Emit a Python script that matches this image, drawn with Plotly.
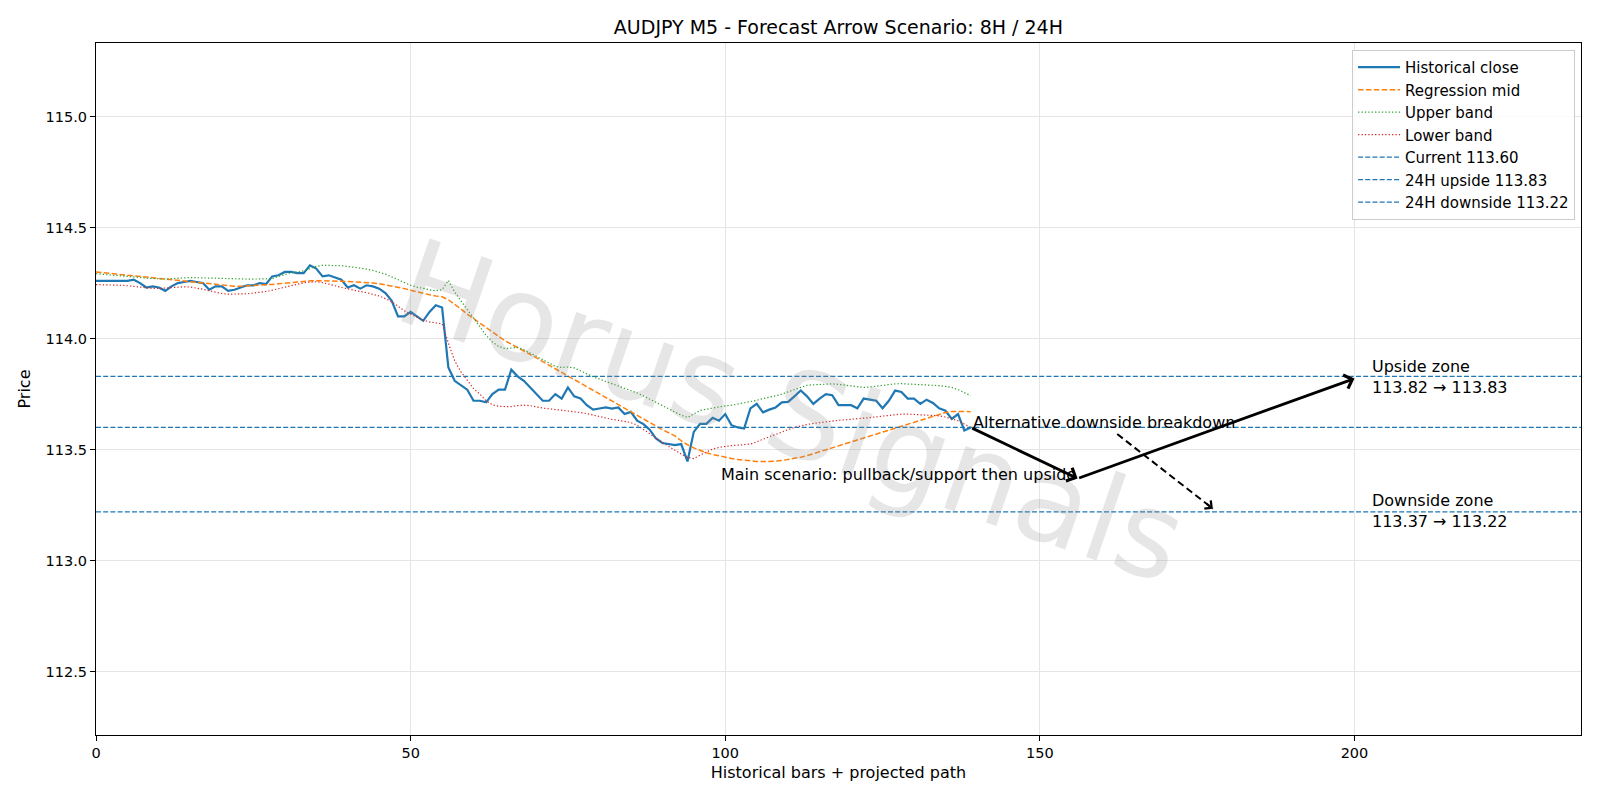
import plotly.graph_objects as go

title_text = "AUDJPY M5 - Forecast Arrow Scenario: 8H / 24H"

close = [
    114.26, 114.26, 114.26, 114.26, 114.26, 114.26, 114.265, 114.25, 114.23, 114.235,
    114.23, 114.215, 114.235, 114.25, 114.255, 114.26, 114.255, 114.25, 114.22, 114.235,
    114.235, 114.215, 114.22, 114.23, 114.24, 114.24, 114.25, 114.245, 114.28, 114.285,
    114.30, 114.30, 114.295, 114.295, 114.33, 114.315, 114.28, 114.285, 114.275, 114.265,
    114.23, 114.24, 114.225, 114.24, 114.235, 114.225, 114.205, 114.17, 114.10, 114.10,
    114.12, 114.10, 114.08, 114.12, 114.15, 114.14, 113.87, 113.81, 113.79, 113.77,
    113.72, 113.72, 113.713, 113.75, 113.77, 113.77, 113.86, 113.83, 113.81, 113.78,
    113.75, 113.72, 113.72, 113.75, 113.73, 113.78, 113.74, 113.73, 113.70, 113.68,
    113.685, 113.69, 113.685, 113.69, 113.66, 113.67, 113.63, 113.615, 113.59, 113.55,
    113.53, 113.525, 113.52, 113.525, 113.447, 113.58, 113.616, 113.616, 113.643, 113.63,
    113.66, 113.61, 113.60, 113.595, 113.686, 113.706, 113.668, 113.68, 113.69, 113.713,
    113.715, 113.74, 113.766, 113.74, 113.706, 113.73, 113.75, 113.745, 113.70, 113.70,
    113.70, 113.686, 113.73, 113.725, 113.72, 113.686, 113.72, 113.766, 113.76, 113.73,
    113.73, 113.706, 113.725, 113.71, 113.686, 113.675, 113.638, 113.66, 113.586, 113.60,
]

reg_mid = [
    114.300, 114.297, 114.294, 114.291, 114.288, 114.285, 114.282, 114.279, 114.276, 114.273,
    114.270, 114.267, 114.264, 114.261, 114.258, 114.255, 114.252, 114.249, 114.246, 114.243,
    114.240, 114.238, 114.236, 114.236, 114.237, 114.238, 114.240, 114.242, 114.244, 114.247,
    114.250, 114.253, 114.256, 114.258, 114.260, 114.261, 114.261, 114.260, 114.259, 114.258,
    114.257, 114.256, 114.255, 114.253, 114.250, 114.247, 114.242, 114.237, 114.231, 114.225,
    114.218, 114.210, 114.203, 114.197, 114.192, 114.188, 114.175, 114.155, 114.133, 114.110,
    114.090, 114.070, 114.050, 114.030, 114.010, 113.990, 113.975, 113.960, 113.945, 113.930,
    113.913, 113.896, 113.880, 113.863, 113.846, 113.830, 113.813, 113.796, 113.780, 113.765,
    113.750, 113.733, 113.716, 113.700, 113.685, 113.668, 113.652, 113.636, 113.620, 113.605,
    113.590, 113.576, 113.562, 113.540, 113.522, 113.508, 113.496, 113.486, 113.478, 113.471,
    113.465, 113.460, 113.456, 113.452, 113.449, 113.447, 113.446, 113.446, 113.448, 113.451,
    113.455, 113.460, 113.466, 113.473, 113.481, 113.490, 113.499, 113.508, 113.517, 113.526,
    113.535, 113.544, 113.553, 113.562, 113.571, 113.580, 113.589, 113.598, 113.607, 113.616,
    113.625, 113.634, 113.643, 113.652, 113.660, 113.667, 113.672, 113.673, 113.672, 113.670,
]

upper_band = [
    114.292, 114.290, 114.288, 114.285, 114.283, 114.280, 114.278, 114.275, 114.272, 114.270,
    114.268, 114.268, 114.270, 114.272, 114.274, 114.275, 114.274, 114.273, 114.271, 114.270,
    114.270, 114.269, 114.268, 114.268, 114.268, 114.268, 114.268, 114.268, 114.270, 114.280,
    114.290, 114.297, 114.300, 114.305, 114.315, 114.325, 114.330, 114.330, 114.330, 114.328,
    114.325, 114.322, 114.318, 114.313, 114.307, 114.300, 114.290, 114.278, 114.265, 114.252,
    114.240, 114.232, 114.225, 114.220, 114.215, 114.220, 114.262, 114.210, 114.170, 114.130,
    114.090, 114.050, 114.015, 113.985, 113.965, 113.955, 113.958, 113.960, 113.950, 113.935,
    113.918, 113.905, 113.890, 113.875, 113.870, 113.872, 113.868, 113.855, 113.840, 113.828,
    113.818, 113.808, 113.798, 113.788, 113.778, 113.768, 113.755, 113.742, 113.728, 113.714,
    113.700, 113.685, 113.670, 113.655, 113.645, 113.662, 113.676, 113.682, 113.688, 113.693,
    113.697, 113.700, 113.705, 113.710, 113.715, 113.722, 113.730, 113.735, 113.742, 113.750,
    113.760, 113.772, 113.782, 113.790, 113.792, 113.794, 113.795, 113.796, 113.794, 113.790,
    113.786, 113.782, 113.780, 113.782, 113.786, 113.790, 113.794, 113.796, 113.797, 113.796,
    113.794, 113.792, 113.791, 113.790, 113.788, 113.785, 113.780, 113.770, 113.757, 113.743,
]

lower_band = [
    114.243, 114.243, 114.242, 114.241, 114.240, 114.238, 114.235, 114.232, 114.228, 114.226,
    114.226, 114.228, 114.230, 114.232, 114.233, 114.232, 114.228, 114.222, 114.215, 114.208,
    114.203, 114.200, 114.200, 114.200, 114.202, 114.205, 114.208, 114.212, 114.218, 114.225,
    114.232, 114.240, 114.246, 114.251, 114.255, 114.256, 114.252, 114.246, 114.238, 114.230,
    114.223, 114.217, 114.212, 114.207, 114.200, 114.192, 114.180, 114.166, 114.145, 114.125,
    114.110, 114.095, 114.083, 114.075, 114.070, 114.067, 113.980, 113.900, 113.850, 113.810,
    113.775, 113.750, 113.720, 113.702, 113.695, 113.694, 113.694, 113.698, 113.700, 113.698,
    113.692, 113.687, 113.684, 113.681, 113.678, 113.674, 113.670, 113.667, 113.662, 113.655,
    113.648, 113.642, 113.636, 113.632, 113.628, 113.622, 113.610, 113.592, 113.572, 113.550,
    113.532, 113.515, 113.498, 113.480, 113.465, 113.460, 113.475, 113.490, 113.503, 113.510,
    113.515, 113.518, 113.520, 113.522, 113.525, 113.535, 113.548, 113.558, 113.568, 113.580,
    113.590, 113.600, 113.608, 113.613, 113.618, 113.622, 113.626, 113.630, 113.632, 113.634,
    113.636, 113.638, 113.640, 113.643, 113.647, 113.651, 113.655, 113.658, 113.660, 113.660,
    113.659, 113.658, 113.657, 113.655, 113.652, 113.647, 113.640, 113.630, 113.615, 113.600,
]

bars = list(range(len(close)))

level_names = ["Current 113.60", "24H upside 113.83", "24H downside 113.22"]
level_values = [113.60, 113.83, 113.22]

x_range = [0, 236]
y_range = [112.215, 115.331]
x_ticks = [0, 50, 100, 150, 200]
y_ticks = [112.5, 113.0, 113.5, 114.0, 114.5, 115.0]

main_path_x = [139, 156, 200]
main_path_y = [113.60, 113.37, 113.82]
alt_path_x = [162.3, 177.5]
alt_path_y = [113.57, 113.234]

main_label = "Main scenario: pullback/support then upside"
alt_label = "Alternative downside breakdown"
zone_x = 202.4
upside_zone = ["Upside zone", "113.82 → 113.83", 113.826]
downside_zone = ["Downside zone", "113.37 → 113.22", 113.224]
watermark = "Horus Signals"

FONT = "DejaVu Sans"
BLUE = "#1f77b4"
TXT = 16

fig = go.Figure()
fig.add_trace(go.Scatter(x=bars, y=close, mode="lines", name="Historical close",
                         line=dict(color=BLUE, width=2.2)))
fig.add_trace(go.Scatter(x=bars, y=reg_mid, mode="lines", name="Regression mid",
                         line=dict(color="#ff7f0e", width=1.5, dash="5.5px,2.4px")))
fig.add_trace(go.Scatter(x=bars, y=upper_band, mode="lines", name="Upper band",
                         line=dict(color="#2ca02c", width=1.2, dash="1.3px,2.1px")))
fig.add_trace(go.Scatter(x=bars, y=lower_band, mode="lines", name="Lower band",
                         line=dict(color="#d62728", width=1.2, dash="1.3px,2.1px")))
for nm, lv in zip(level_names, level_values):
    fig.add_trace(go.Scatter(x=x_range, y=[lv, lv], mode="lines", name=nm,
                             line=dict(color=BLUE, width=1.3, dash="5px,2.2px")))

# alternative dashed path body
fig.add_trace(go.Scatter(x=alt_path_x, y=alt_path_y, mode="lines", showlegend=False,
                         hoverinfo="skip", line=dict(color="black", width=2, dash="7px,4px")))

annotations = []
# watermark
annotations.append(dict(x=110.5, y=113.67, xref="x", yref="y", text=watermark, showarrow=False,
                        textangle=19, font=dict(family=FONT, size=120, color="rgba(140,140,140,0.22)")))
# main path arrows
for i in range(len(main_path_x) - 1):
    annotations.append(dict(x=main_path_x[i + 1], y=main_path_y[i + 1], ax=main_path_x[i], ay=main_path_y[i],
                            xref="x", yref="y", axref="x", ayref="y", text="", showarrow=True,
                            arrowhead=4, arrowsize=1.0, arrowwidth=2.8, arrowcolor="black",
                            standoff=0, startstandoff=0))
# alt arrow head
dx = alt_path_x[1] - alt_path_x[0]
dy = alt_path_y[1] - alt_path_y[0]
annotations.append(dict(x=alt_path_x[1], y=alt_path_y[1], ax=alt_path_x[1] - dx * 0.08,
                        ay=alt_path_y[1] - dy * 0.08, xref="x", yref="y", axref="x", ayref="y",
                        text="", showarrow=True, arrowhead=4, arrowsize=1.0, arrowwidth=2,
                        arrowcolor="black", standoff=0, startstandoff=0))
annotations.append(dict(x=main_path_x[1], y=main_path_y[1] + 0.02, xref="x", yref="y", text=main_label,
                        showarrow=False, xanchor="right", yanchor="middle",
                        font=dict(family=FONT, size=TXT, color="black")))
annotations.append(dict(x=main_path_x[0], y=main_path_y[0] + 0.02, xref="x", yref="y", text=alt_label,
                        showarrow=False, xanchor="left", yanchor="middle",
                        font=dict(family=FONT, size=TXT, color="black")))
for z in (upside_zone, downside_zone):
    annotations.append(dict(x=zone_x, y=z[2], xref="x", yref="y", text=z[0] + "<br>" + z[1],
                            showarrow=False, xanchor="left", yanchor="middle", align="left",
                            font=dict(family=FONT, size=TXT, color="black")))

fig.update_layout(
    width=1600, height=800,
    margin=dict(l=96, r=19, t=43, b=65),
    paper_bgcolor="white", plot_bgcolor="white",
    font=dict(family=FONT, size=14.5, color="black"),
    title=dict(text=title_text, x=0.524, xanchor="center", y=0.966, yanchor="middle",
               font=dict(family=FONT, size=19, color="black")),
    xaxis=dict(range=x_range, tickvals=x_ticks, ticks="outside", ticklen=5, tickcolor="black",
               showline=True, linecolor="black", linewidth=1, mirror=True,
               showgrid=True, gridcolor="#e5e5e5", gridwidth=1, zeroline=False,
               tickfont=dict(size=14.5), title=dict(text="Historical bars + projected path", standoff=6,
                                                   font=dict(size=TXT))),
    yaxis=dict(range=y_range, tickvals=y_ticks, tickformat=".1f", ticks="outside", ticklen=5,
               tickcolor="black", showline=True, linecolor="black", linewidth=1, mirror=True,
               showgrid=True, gridcolor="#e5e5e5", gridwidth=1, zeroline=False,
               tickfont=dict(size=14.5), title=dict(text="Price", standoff=10, font=dict(size=TXT))),
    legend=dict(x=0.996, xanchor="right", y=0.99, yanchor="top", bgcolor="rgba(255,255,255,0.85)",
                bordercolor="#cccccc", borderwidth=1, font=dict(family=FONT, size=15), itemwidth=42),
    annotations=annotations,
    showlegend=True,
)

fig.write_html("out.html")
